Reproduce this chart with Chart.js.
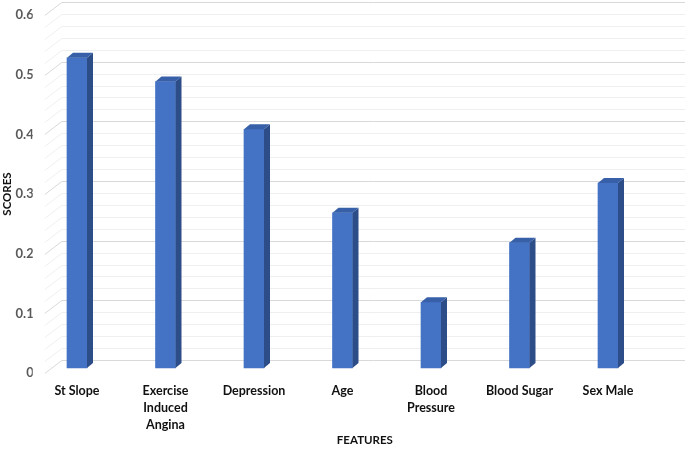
<!DOCTYPE html>
<html>
<head>
<meta charset="utf-8">
<script src="https://cdn.jsdelivr.net/npm/chart.js@4/dist/chart.umd.min.js"></script>
<style>
  html, body { margin: 0; padding: 0; background: #fff; }
  #wrap { width: 685px; height: 450px; }
</style>
</head>
<body>
<div id="wrap"><canvas id="chart" width="685" height="450"></canvas></div>
<script>
const categories = ["St Slope", ["Exercise", "Induced", "Angina"], "Depression", "Age", ["Blood", "Pressure"], "Blood Sugar", "Sex Male"];
const scores = [0.52, 0.48, 0.40, 0.26, 0.11, 0.21, 0.31];
const yTicks = [0, 0.1, 0.2, 0.3, 0.4, 0.5, 0.6];
const yMinorStep = 0.02;

const FRONT = "#4472C4";
const SIDE = "#2C4D87";
const TOP = "#3760A8";
const DEPTH_X = 6, DEPTH_Y = 5;     // bar depth
const WALL_X = 17, WALL_Y = 13;     // side wall depth

// back wall + side wall gridlines (3d look)
const wallPlugin = {
  id: "wall",
  beforeDatasetsDraw(chart) {
    const { ctx, chartArea } = chart;
    const y = chart.scales.y;
    const x0 = chartArea.left + 12;
    ctx.save();
    ctx.lineWidth = 1;
    const n = Math.round(yTicks[yTicks.length - 1] / yMinorStep);
    for (let i = 0; i <= n; i++) {
      const v = i * yMinorStep;
      const fy = Math.round(y.getPixelForValue(v)) + 0.5;
      const by = fy - WALL_Y;
      ctx.strokeStyle = i % 5 === 0 ? "#d9d9d9" : "#efefef";
      ctx.beginPath();
      ctx.moveTo(x0, fy);
      ctx.lineTo(x0 + WALL_X, by);
      ctx.lineTo(chart.width, by);
      ctx.stroke();
    }
    ctx.restore();
  },
  afterDatasetsDraw(chart) {
    const { ctx } = chart;
    const meta = chart.getDatasetMeta(0);
    ctx.save();
    meta.data.forEach(bar => {
      const { x, y, base, width } = bar.getProps(["x", "y", "base", "width"], true);
      const l = x - width / 2, r = x + width / 2;
      ctx.fillStyle = SIDE;
      ctx.beginPath();
      ctx.moveTo(r, y);
      ctx.lineTo(r + DEPTH_X, y - DEPTH_Y);
      ctx.lineTo(r + DEPTH_X, base - DEPTH_Y);
      ctx.lineTo(r, base);
      ctx.closePath();
      ctx.fill();
      ctx.fillStyle = TOP;
      ctx.beginPath();
      ctx.moveTo(l, y);
      ctx.lineTo(l + DEPTH_X, y - DEPTH_Y);
      ctx.lineTo(r + DEPTH_X, y - DEPTH_Y);
      ctx.lineTo(r, y);
      ctx.closePath();
      ctx.fill();
    });
    ctx.restore();
  },
  afterDraw(chart) {
    const { ctx, chartArea } = chart;
    const cx = (chartArea.left + 12 + chart.width) / 2;
    ctx.save();
    ctx.font = "bold 11.5px Lato";
    ctx.fillStyle = "#111";
    ctx.textAlign = "center";
    ctx.textBaseline = "middle";
    ctx.fillText("FEATURES", cx, 440);
    ctx.restore();
  }
};

new Chart(document.getElementById("chart"), {
  type: "bar",
  data: {
    labels: categories,
    datasets: [{
      data: scores,
      yAxisID: "yb",
      backgroundColor: FRONT,
      barThickness: 20,
      borderWidth: 0,
    }]
  },
  options: {
    responsive: false,
    animation: false,
    layout: { padding: { top: 15, right: 32.75, left: 0, bottom: 0 } },
    plugins: { legend: { display: false }, tooltip: { enabled: false } },
    scales: {
      x: {
        grid: { display: false, drawTicks: false },
        border: { display: false },
        ticks: {
          color: "#111",
          font: { family: "Lato", weight: "bold", size: 12.5, lineHeight: 1.36 },
          padding: 9,
          maxRotation: 0,
          autoSkip: false,
        },
        afterFit(scale) { scale.height = 77; }
      },
      y: {
        min: 0,
        max: 0.6,
        afterBuildTicks(scale) { scale.ticks = yTicks.map(v => ({ value: v })); },
        grid: { display: false, drawTicks: false },
        border: { display: false },
        ticks: {
          color: "#595959",
          font: { family: "Lato", weight: "bold", size: 13 },
          padding: -1,
          callback: v => String(v),
        },
        title: {
          display: true,
          text: "SCORES",
          color: "#111",
          font: { family: "Lato", weight: "bold", size: 11.5 },
          padding: 0,
        },
        afterFit(scale) { scale.width = 32.75; }
      },
      yb: {
        display: false,
        min: -0.0084,
        max: 0.5916,
      }
    }
  },
  plugins: [wallPlugin]
});
</script>
</body>
</html>
